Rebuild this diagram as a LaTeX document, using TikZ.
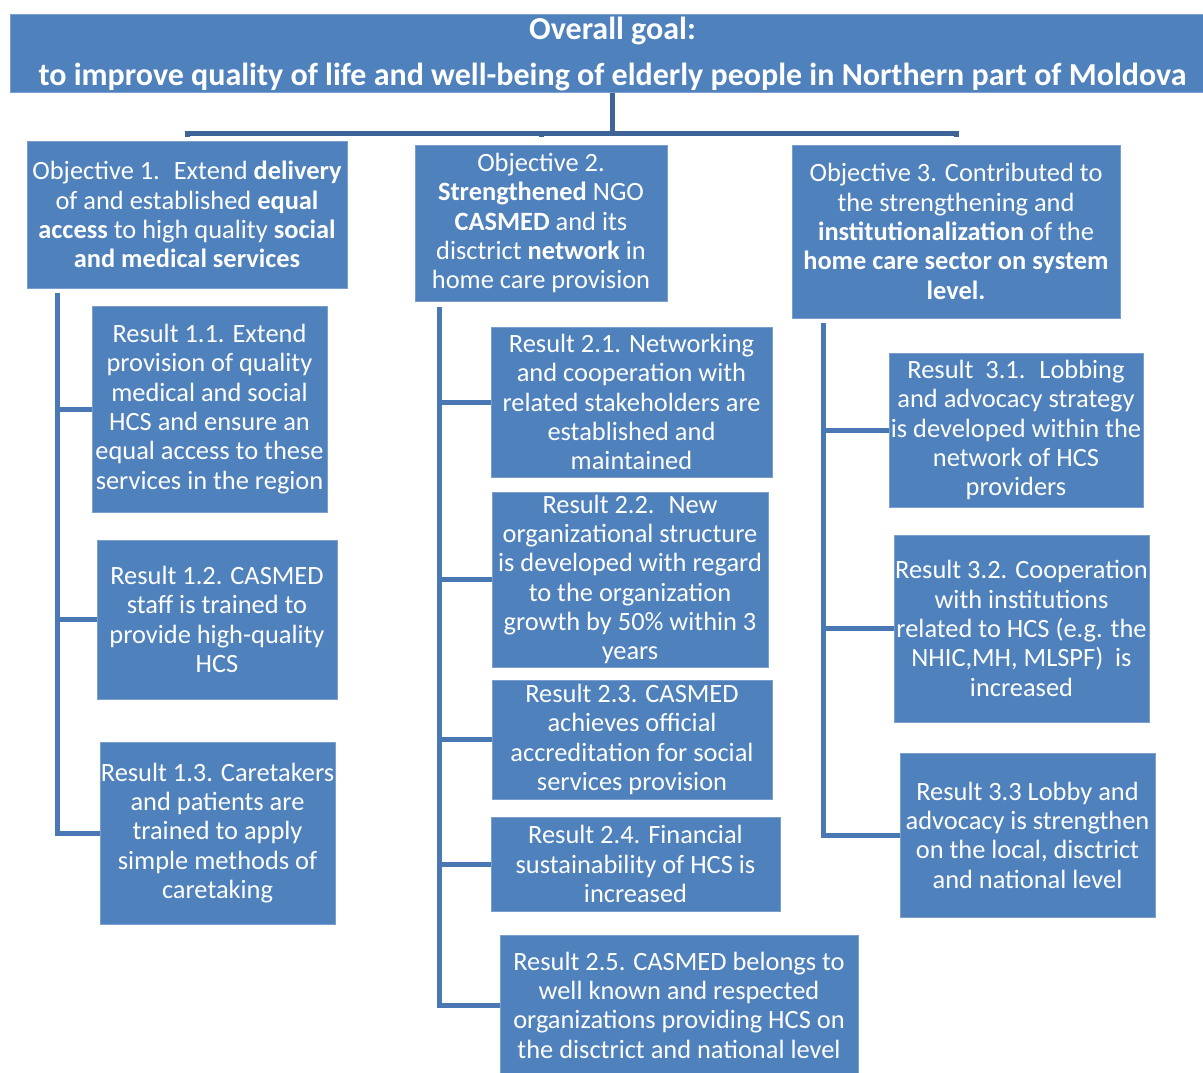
\documentclass[tikz,border=0pt]{standalone}
\usepackage{fontspec}
\setmainfont{Carlito}
\usetikzlibrary{calc}
\definecolor{boxfill}{RGB}{79,129,189}
\definecolor{boxedge}{RGB}{122,158,206}
\definecolor{treeline}{RGB}{74,120,180}
\definecolor{topline}{RGB}{62,100,151}
\begin{document}
\begin{tikzpicture}[x=1pt,y=-1pt,
  box/.style={draw=boxedge, line width=1pt, fill=boxfill, text=white, align=center, inner sep=0pt,
    font=\fontsize{26.4}{29.3}\selectfont},
  goalbox/.style={box, font=\bfseries\fontsize{32}{48}\selectfont},
  tree/.style={draw=treeline, line width=5pt},
  topl/.style={draw=topline, line width=5pt}]
\path[use as bounding box] (0,0) rectangle (1203,1073);
\fill[white] (0,0) rectangle (1203,1073);

\node[goalbox, minimum width=1205, minimum height=78] (goal) at (612.5,54)
  {\raisebox{-2pt}{Overall goal:}\\ to improve quality of life and well-being of elderly people in Northern part of Moldova};

\node[box, minimum width=320, minimum height=147] (o1) at (187,214.5)
  {Objective 1.~ Extend \textbf{delivery}\\ of and established \textbf{equal}\\ \textbf{access} to high quality \textbf{social}\\ \textbf{and medical services}};
\node[box, minimum width=252, minimum height=156] (o2) at (541,223)
  {Objective 2.\\ \textbf{Strengthened} NGO\\ \textbf{CASMED} and its\\ disctrict \textbf{network} in\\ home care provision};
\node[box, minimum width=328, minimum height=173] (o3) at (956,231.5)
  {Objective 3. Contributed to\\ the strengthening and\\ \textbf{institutionalization} of the\\ \textbf{home care sector on system}\\ \textbf{level.}};

\node[box, minimum width=235, minimum height=206] (r11) at (209.5,409)
  {Result 1.1. Extend\\ provision of quality\\ medical and social\\ HCS and ensure an\\ equal access to these\\ services in the region};
\node[box, minimum width=240, minimum height=159] (r12) at (217,619.5)
  {Result 1.2. CASMED\\ staff is trained to\\ provide high-quality\\ HCS};
\node[box, minimum width=235, minimum height=182] (r13) at (217.5,833)
  {Result 1.3. Caretakers\\ and patients are\\ trained to apply\\ simple methods of\\ caretaking};

\node[box, minimum width=281, minimum height=150] (r21) at (631.5,402)
  {Result 2.1. Networking\\ and cooperation with\\ related stakeholders are\\ established and\\ maintained};
\node[box, minimum width=276, minimum height=175] (r22) at (630,579.5)
  {Result 2.2.~ New\\ organizational structure\\ is developed with regard\\ to the organization\\ growth by 50\% within 3\\ years};
\node[box, minimum width=280, minimum height=119] (r23) at (632,739.5)
  {Result 2.3. CASMED\\ achieves official\\ accreditation for social\\ services provision};
\node[box, minimum width=289, minimum height=94] (r24) at (635.5,864)
  {Result 2.4. Financial\\ sustainability of HCS is\\ increased};
\node[box, minimum width=358, minimum height=140] (r25) at (679,1005)
  {Result 2.5. CASMED belongs to\\ well known and respected\\ organizations providing HCS on\\ the disctrict and national level};

\node[box, minimum width=254, minimum height=154] (r31) at (1016,430)
  {Result~ 3.1.~ Lobbing\\ and advocacy strategy\\ is developed within the\\ network of HCS\\ providers};
\node[box, minimum width=255, minimum height=187] (r32) at (1021.5,628.5)
  {Result 3.2. Cooperation\\ with institutions\\ related to HCS (e.g. the\\ NHIC,MH, MLSPF)~ is\\ increased};
\node[box, minimum width=255, minimum height=164] (r33) at (1027.5,835)
  {Result 3.3 Lobby and\\ advocacy is strengthen\\ on the local, disctrict\\ and national level};

% top bracket
\coordinate (g) at (612,93);
\coordinate (hb) at (612,133);
\draw[topl] (g) -- (hb);
\draw[topl] ($(hb -| o1.north)+(0,4)$) -- (hb -| o1.north) -- (hb -| o3.north) -- ($(hb -| o3.north)+(0,4)$);
\draw[topl] (hb -| o2.north) -- ($(hb -| o2.north)+(0,4)$);

% column trees
\coordinate (c1) at (57,293);
\coordinate (c2) at (439,307);
\coordinate (c3) at (823,323);
\draw[tree] (c1) |- (r13.west);
\draw[tree] (c1 |- r11.west) -- (r11.west);
\draw[tree] (c1 |- r12.west) -- (r12.west);
\draw[tree] (c2) |- (r25.west);
\draw[tree] (c2 |- r21.west) -- (r21.west);
\draw[tree] (c2 |- r22.west) -- (r22.west);
\draw[tree] (c2 |- r23.west) -- (r23.west);
\draw[tree] (c2 |- r24.west) -- (r24.west);
\draw[tree] (c3) |- (r33.west);
\draw[tree] (c3 |- r31.west) -- (r31.west);
\draw[tree] (c3 |- r32.west) -- (r32.west);
\end{tikzpicture}
\end{document}
